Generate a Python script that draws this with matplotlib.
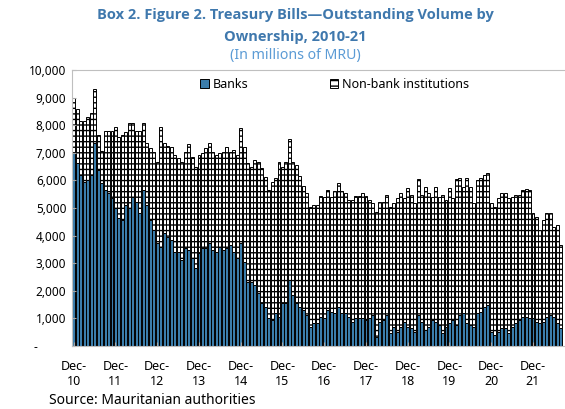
import numpy as np
import matplotlib.pyplot as plt
import matplotlib.transforms as mtransforms

plt.rcParams['font.family'] = ['Noto Sans', 'DejaVu Sans']
plt.rcParams['hatch.linewidth'] = 1.0

# Monthly data, Dec-10 onwards (millions of MRU)
total = [8975, 8575, 8165, 8165, 8285, 8430, 9300, 7645, 7075, 7800, 7800, 7800, 7945, 7585,
         7645, 7765, 8090, 8090, 7800, 7800, 8065, 7345, 7160, 7040, 6680, 7945, 7345, 7245,
         7220, 6920, 6800, 6680, 7040, 7320, 6860, 6500, 6920, 6980, 7160, 7370, 7040, 6920,
         6980, 7040, 7220, 7040, 7100, 6920, 7910, 7220, 6620, 6500, 6740, 6680, 6440, 6135, 5650,
         5950, 6100, 6650, 6500, 6650, 7490, 6650, 6550, 6150, 5800, 5550, 5050, 5100, 5100,
         5450, 5400, 5650, 5400, 5600, 5900, 5600, 5550, 5300, 5300, 5450, 5450, 5550, 5450, 5300,
         5170, 4870, 5230, 5230, 5470, 5050, 5170, 5350, 5530, 5350, 5710, 5470, 5170, 6040,
         5470, 5770, 5530, 5410, 5770, 5410, 5470, 5290, 5710, 5350, 6040, 6075, 5770,
         6075, 5773, 5169, 6014, 6075, 6196, 6256, 5169, 5048, 5350, 5531, 5531, 5350, 5411,
         5471, 5471, 5652, 5676, 5652, 4807, 4686, 4203, 4565, 4830, 4807, 4324, 4384, 3659]
banks = [6980, 6620, 6195, 5955, 6015, 6195, 7345, 6375, 5895, 5650, 5530, 5350, 4990, 4625,
         4565, 5110, 4990, 5410, 5230, 4810, 5650, 5110, 4565, 4200, 3720, 3600, 4080, 3960,
         3840, 3420, 3420, 3115, 3540, 3480, 3175, 2815, 3360, 3540, 3540, 3720, 3480, 3420,
         3600, 3480, 3540, 3660, 3420, 3175, 3720, 3055, 2330, 2330, 2210, 1910, 1545, 1425, 1000,
         940, 1185, 1060, 1550, 1550, 2390, 1850, 1550, 1425, 1300, 1120, 700, 820, 820,
         1060, 1000, 1300, 1240, 1180, 1420, 1180, 1180, 1060, 880, 1000, 1000, 1000, 940, 1000,
         1120, 340, 880, 940, 1120, 460, 700, 520, 700, 880, 700, 640, 520, 1120,
         880, 580, 700, 940, 880, 760, 460, 700, 820, 940, 760, 1120, 1180,
         821, 761, 700, 1184, 1244, 1425, 1486, 519, 398, 519, 640, 640, 459, 700,
         821, 942, 1063, 1063, 1002, 1002, 882, 821, 882, 1063, 1123, 1063, 821, 640]
nonbank = [t - b for t, b in zip(total, banks)]

years = ['10', '11', '12', '13', '14', '15', '16', '17', '18', '19', '20', '21']
tick_labels = ['Dec-\n' + y for y in years]

x = np.arange(len(banks))

fig = plt.figure(figsize=(5.65, 4.09), dpi=100)
ax = fig.add_axes([72/565, 1 - 346/409, 493/565, 276/409])

b1 = ax.bar(x, banks, width=0.85, color='#3B7DAB', edgecolor='black', linewidth=0.7, label='Banks')
b2 = ax.bar(x, nonbank, bottom=banks, width=0.85, color='white', edgecolor='black',
            linewidth=0.7, hatch='---', label='Non-bank institutions')

ax.set_xlim(-0.5, 141.2)
ax.set_ylim(0, 10000)
ax.set_yticks(range(0, 10001, 1000))
ax.set_yticklabels(['-'] + [f'{v:,}' for v in range(1000, 10001, 1000)])
ax.set_xticks(range(0, len(years) * 12, 12))
ax.set_xticklabels(tick_labels)

ax.tick_params(axis='both', direction='in', length=3, color='#A6A6A6', labelsize=8.5, pad=4)
ax.tick_params(axis='x', pad=10, labelsize=9)
for s in ['left', 'top', 'bottom']:
    ax.spines[s].set_color('#BFBFBF')
    ax.spines[s].set_linewidth(0.8)
ax.spines['right'].set_visible(False)

# the zero label sits further left (accounting style)
zero_lab = ax.get_yticklabels()[0]
zero_lab.set_transform(zero_lab.get_transform() +
                       mtransforms.ScaledTranslation(-29/100, 0, fig.dpi_scale_trans))

ax.legend(handles=[b1, b2], ncol=2, frameon=False, loc='upper left',
          bbox_to_anchor=(195/565, 1 - 73/409), bbox_transform=fig.transFigure,
          fontsize=9, handlelength=0.7, handleheight=0.7, handletextpad=0.3,
          columnspacing=6.5, borderaxespad=0)

title_font = ['Open Sans', 'DejaVu Sans']
fig.text(0.523, 1 - 15/409, 'Box 2. Figure 2. Treasury Bills\u2014Outstanding Volume by',
         ha='center', va='center', fontsize=10.5, fontweight='bold', color='#3F78AD',
         family=title_font)
fig.text(0.523, 1 - 37/409, 'Ownership, 2010-21', ha='center', va='center',
         fontsize=10.5, fontweight='bold', color='#3F78AD', family=title_font)
fig.text(0.523, 1 - 56/409, '(In millions of MRU)', ha='center', va='center',
         fontsize=10.2, color='#5B9BD5')
fig.text(49/565, 1 - 400/409, 'Source: Mauritanian authorities', ha='left', va='center',
         fontsize=10)

fig.savefig('out.png', dpi=100)
